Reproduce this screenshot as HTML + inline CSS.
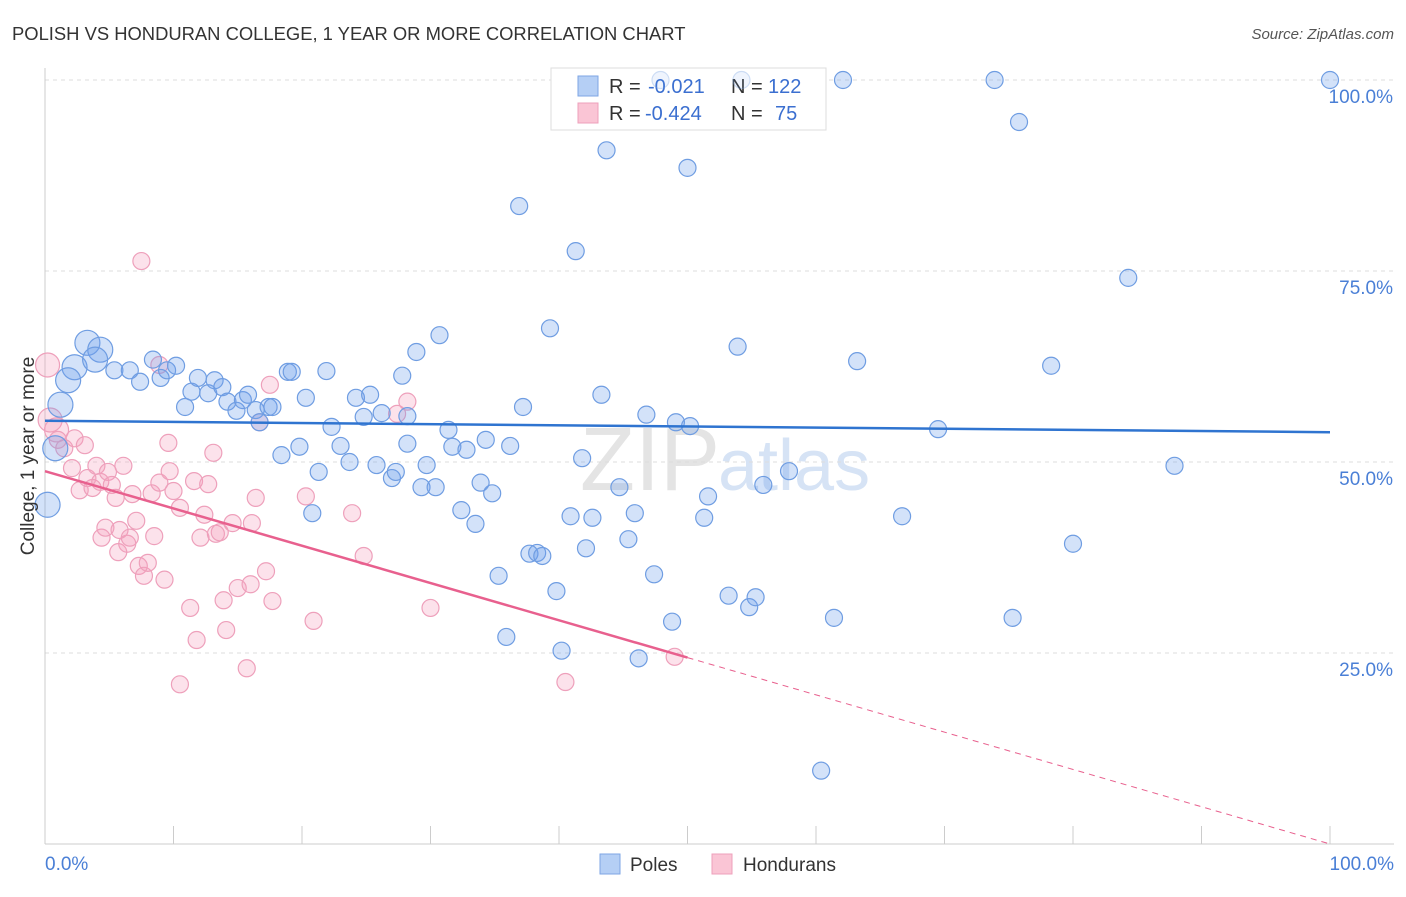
<!DOCTYPE html>
<html><head><meta charset="utf-8"><style>
body{margin:0;background:#fff;font-family:"Liberation Sans",sans-serif}
svg text{font-family:"Liberation Sans",sans-serif}
</style></head><body>
<svg id="c" width="1406" height="892" xmlns="http://www.w3.org/2000/svg">
<text x="12" y="40" font-size="18.4" fill="#333">POLISH VS HONDURAN COLLEGE, 1 YEAR OR MORE CORRELATION CHART</text>
<text x="1394" y="39" font-size="15" fill="#555" text-anchor="end" font-style="italic">Source: ZipAtlas.com</text>
<text x="720" y="490" font-size="90" fill="#e4e4e4" text-anchor="end" font-family="Liberation Serif">ZIP</text>
<text x="718" y="490" font-size="72" fill="#d6e3f5">atlas</text>
<g id="grid"></g>
<g>
<rect x="551" y="68" width="275" height="62" fill="#fff" stroke="#ddd"/>
<rect x="578" y="76" width="20" height="20" fill="#b5cff5" stroke="#7ea6e4"/>
<rect x="578" y="103" width="20" height="20" fill="#fac5d5" stroke="#eea0bb"/>
<text x="609" y="93" font-size="20" fill="#333">R = </text><text x="648" y="93" font-size="20" fill="#3b6fd0">-0.021</text>
<text x="731" y="93" font-size="20" fill="#333">N = </text><text x="768" y="93" font-size="20" fill="#3b6fd0">122</text>
<text x="609" y="120" font-size="20" fill="#333">R = </text><text x="645" y="120" font-size="20" fill="#3b6fd0">-0.424</text>
<text x="731" y="120" font-size="20" fill="#333">N = </text><text x="775" y="120" font-size="20" fill="#3b6fd0">75</text>
</g>
<g id="pts"></g>
<g id="trend"></g>
<text transform="translate(34,456) rotate(-90)" font-size="19" fill="#333" text-anchor="middle">College, 1 year or more</text>
<text x="45" y="870" font-size="19" fill="#4a7fd6">0.0%</text>
<text x="1394" y="870" font-size="19" fill="#4a7fd6" text-anchor="end">100.0%</text>
<g>
<rect x="600" y="854" width="20" height="20" fill="#b5cff5" stroke="#7ea6e4"/>
<text x="630" y="871" font-size="19" fill="#333">Poles</text>
<rect x="712" y="854" width="20" height="20" fill="#fac5d5" stroke="#eea0bb"/>
<text x="743" y="871" font-size="19" fill="#333">Hondurans</text>
</g>
</svg>
<script>
const yTicks=[25,50,75,100];
const yTickLabels=["25.0%","50.0%","75.0%","100.0%"];
const blueX=[47.9,54.2,62.1,73.9,100,75.8,43.7,50.0,36.9,41.3,84.3,30.7,39.3,53.9,63.2,78.3,28.9,3.3,4.3,2.3,1.8,1.2,0.2,0.8,3.9,5.4,6.6,7.4,8.4,9.0,9.5,10.2,10.9,11.4,11.9,12.7,13.2,13.8,14.2,14.9,15.4,15.8,16.4,16.7,17.4,17.7,18.9,19.2,20.3,21.9,18.4,19.8,20.8,21.3,22.3,23.0,23.7,24.2,24.8,25.3,26.2,25.8,27.0,27.3,27.8,28.2,28.2,29.3,29.7,30.4,31.4,31.7,32.4,32.8,33.5,33.9,34.3,34.8,35.3,35.9,36.2,37.2,37.7,38.3,38.7,39.8,40.2,40.9,41.8,42.1,42.6,43.3,44.7,45.4,45.9,46.2,46.8,47.4,48.8,49.1,50.2,51.3,51.6,53.2,54.8,55.3,55.9,57.9,60.4,61.4,66.7,69.5,75.3,80.0,87.9];
const blueY=[100,100,100,100,100,94.5,90.8,88.5,83.5,77.6,74.1,66.6,67.5,65.1,63.2,62.6,64.4,65.6,64.7,62.4,60.7,57.5,44.4,51.8,63.4,62.0,62.0,60.5,63.4,61.0,62.0,62.6,57.2,59.2,61.0,59.0,60.7,59.8,57.9,56.7,58.1,58.8,56.8,55.2,57.2,57.2,61.8,61.8,58.4,61.9,50.9,52.0,43.3,48.7,54.6,52.1,50.0,58.4,55.9,58.8,56.4,49.6,47.9,48.7,61.3,52.4,56.0,46.7,49.6,46.7,54.2,52.0,43.7,51.6,41.9,47.3,52.9,45.9,35.1,27.1,52.1,57.2,38.0,38.1,37.7,33.1,25.3,42.9,50.5,38.7,42.7,58.8,46.7,39.9,43.3,24.3,56.2,35.3,29.1,55.2,54.7,42.7,45.5,32.5,31.0,32.3,47.0,48.8,9.6,29.6,42.9,54.3,29.6,39.3,49.5];
const pinkX=[7.5,0.2,0.4,0.9,1.0,1.5,2.1,2.3,2.7,3.1,3.3,3.7,4.0,4.3,4.4,4.7,4.9,5.2,5.5,5.7,5.8,6.1,6.4,6.6,6.8,7.1,7.3,7.7,8.0,8.3,8.5,8.9,9.3,9.6,9.7,10.0,10.5,10.5,11.3,11.6,11.8,12.1,12.4,12.7,13.1,13.3,13.6,13.9,14.1,14.6,15.0,15.7,16.1,16.4,16.7,17.2,17.5,17.7,20.3,20.9,23.9,24.8,27.4,28.2,30.0,40.5,49.0,16.0,8.9];
const pinkY=[76.3,62.7,55.5,54.2,52.9,51.8,49.2,53.1,46.3,52.2,47.9,46.6,49.5,47.4,40.1,41.4,48.7,47.0,45.3,38.2,41.1,49.5,39.3,40.1,45.8,42.3,36.4,35.1,36.8,45.9,40.3,47.3,34.6,52.5,48.8,46.2,44.0,20.9,30.9,47.5,26.7,40.1,43.1,47.1,51.2,40.6,40.8,31.9,28.0,42.0,33.5,23.0,42.0,45.3,55.2,35.7,60.1,31.8,45.5,29.2,43.3,37.7,56.3,57.9,30.9,21.2,24.5,34.0,62.7];
const blueTrend=[55.4,53.9];
const pinkTrend=[48.8,0];
const X0=45,X1=1330,Y0=844,Y100=80;
const sx=v=>X0+(X1-X0)*v/100, sy=v=>Y0-(Y0-Y100)*v/100;
const NS="http://www.w3.org/2000/svg";
function mk(p,t,a){const e=document.createElementNS(NS,t);for(const k in a)e.setAttribute(k,a[k]);p.appendChild(e);return e;}
const g=document.getElementById('grid');
yTicks.forEach((t,i)=>{
 const l=mk(g,'line',{x1:X0,x2:1394,y1:sy(t),y2:sy(t),stroke:'#ddd','stroke-dasharray':'4,4'});
 
 
 const tx=mk(g,'text',{x:1393,y:sy(t)+23,'font-size':19,fill:'#4a7fd6','text-anchor':'end'});tx.textContent=yTickLabels[i];
 
 
});
const ax=mk(g,'line',{x1:X0,x2:X0,y1:68,y2:Y0,stroke:'#ccc'});


const bx=mk(g,'line',{x1:X0,x2:1394,y1:Y0,y2:Y0,stroke:'#ccc'});


for(let i=0;i<=10;i++){const t=mk(g,'line',{x1:sx(i*10),x2:sx(i*10),y1:826,y2:Y0,stroke:'#ccc'});
 
 }
const p=document.getElementById('pts');
pinkX.forEach((x,i)=>{const r=(x<1)?12:8.5;
 const c=mk(p,'circle',{cx:sx(x),cy:sy(pinkY[i]),r:r,fill:'rgba(245,160,190,0.3)',stroke:'#eea0bb','stroke-width':1.2});
 
 });
blueX.forEach((x,i)=>{const r=(x<4.5&&blueY[i]>40)?12.5:8.5;
 const op=(blueY[i]==100&&x>45&&x<60)?0.35:1;
 const c=mk(p,'circle',{cx:sx(x),cy:sy(blueY[i]),r:r,fill:'rgba(110,160,235,0.3)',stroke:'#6f9de2','stroke-width':1.2,opacity:op});
 
 });
const tg=document.getElementById('trend');
const b=mk(tg,'line',{x1:sx(0),y1:sy(blueTrend[0]),x2:sx(100),y2:sy(blueTrend[1]),stroke:'#2f74d0','stroke-width':2.5});


const py=x=>pinkTrend[0]+(pinkTrend[1]-pinkTrend[0])*x/100;
const ps=mk(tg,'line',{x1:sx(0),y1:sy(py(0)),x2:sx(50),y2:sy(py(50)),stroke:'#e8608e','stroke-width':2.5});


const pd=mk(tg,'line',{x1:sx(50),y1:sy(py(50)),x2:sx(100),y2:sy(py(100)),stroke:'#e8608e','stroke-width':1,'stroke-dasharray':'6,5'});


</script>
</body></html>
